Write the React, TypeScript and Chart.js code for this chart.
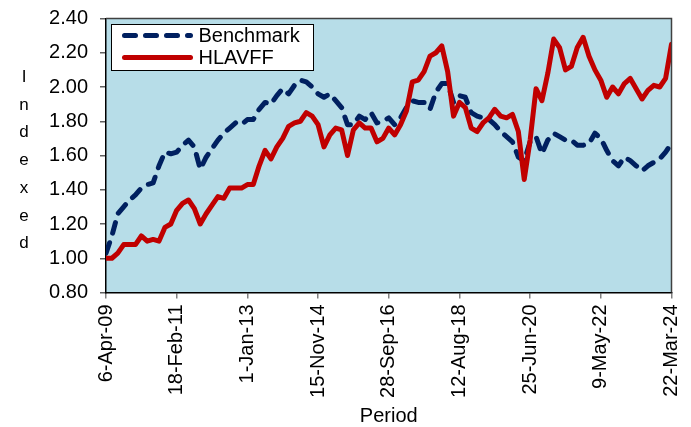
import React, { useEffect, useRef } from 'react';
import { Chart, registerables } from 'chart.js';

Chart.register(...registerables);

// Tick labels on the period axis (one every 12 samples)
const tickLabels = ['6-Apr-09', '18-Feb-11', '1-Jan-13', '15-Nov-14', '28-Sep-16', '12-Aug-18', '25-Jun-20', '9-May-22', '22-Mar-24'];
const samplesPerTick = 12;

const benchmark = [
  1.03, 1.13, 1.26, 1.30, 1.34, 1.37, 1.41, 1.43, 1.44, 1.54,
  1.62, 1.61, 1.62, 1.66, 1.69, 1.65, 1.52, 1.59, 1.64, 1.69,
  1.73, 1.76, 1.79, 1.78, 1.81, 1.81, 1.87, 1.91, 1.90, 1.95,
  1.99, 1.96, 2.01, 2.04, 2.03, 2.00, 1.96, 1.94, 1.96, 1.92,
  1.88, 1.78, 1.78, 1.83, 1.81, 1.85, 1.79, 1.80, 1.82, 1.78,
  1.82, 1.88, 1.92, 1.91, 1.91, 1.87, 1.97, 2.02, 2.02, 1.91,
  1.95, 1.94, 1.85, 1.83, 1.82, 1.81, 1.78, 1.74, 1.71, 1.68,
  1.59, 1.57, 1.68, 1.71, 1.61, 1.69, 1.73, 1.71, 1.69, 1.69,
  1.66, 1.66, 1.67, 1.73, 1.70, 1.63, 1.57, 1.54, 1.59, 1.57,
  1.54, 1.51, 1.54, 1.56, 1.58, 1.62, 1.67,
];

const hlavff = [
  1.00, 1.00, 1.03, 1.08, 1.08, 1.08, 1.13, 1.10, 1.11, 1.10,
  1.18, 1.20, 1.28, 1.32, 1.34, 1.29, 1.20, 1.26, 1.31, 1.36,
  1.35, 1.41, 1.41, 1.41, 1.43, 1.43, 1.54, 1.63, 1.58, 1.65,
  1.70, 1.77, 1.79, 1.80, 1.85, 1.83, 1.78, 1.65, 1.72, 1.76,
  1.75, 1.60, 1.75, 1.79, 1.76, 1.76, 1.68, 1.70, 1.76, 1.72,
  1.78, 1.86, 2.03, 2.04, 2.09, 2.18, 2.20, 2.24, 2.09, 1.83,
  1.91, 1.88, 1.76, 1.74, 1.79, 1.82, 1.87, 1.83, 1.82, 1.84,
  1.74, 1.46, 1.69, 1.99, 1.92, 2.08, 2.28, 2.23, 2.10, 2.12,
  2.23, 2.29, 2.18, 2.10, 2.04, 1.94, 2.00, 1.96, 2.02, 2.05,
  1.99, 1.93, 1.98, 2.01, 2.00, 2.05, 2.25,
];

const seriesNames = ['Benchmark', 'HLAVFF'];
const seriesColors = ['#002060', '#C00000'];
const yTitle = 'Indexed';
const xTitle = 'Period';

const FONT = "'Liberation Sans', Arial, sans-serif";

const decorPlugin = {
  id: 'decor',
  beforeDraw(chart: any) {
    const { ctx, chartArea } = chart;
    const { left, top, right, bottom } = chartArea;
    ctx.save();
    ctx.fillStyle = '#B7DDE8';
    ctx.fillRect(left, top, right - left, bottom - top);
    ctx.restore();
  },
  afterDraw(chart: any) {
    const { ctx, chartArea } = chart;
    const { left, top, right, bottom } = chartArea;
    ctx.save();
    // top & right frame
    ctx.strokeStyle = '#404040';
    ctx.lineWidth = 1.5;
    ctx.beginPath();
    ctx.moveTo(left, top);
    ctx.lineTo(right, top);
    ctx.lineTo(right, bottom);
    ctx.stroke();

    // legend
    const bx = left + 5.5, by = top + 6, bw = 202, bh = 46;
    ctx.fillStyle = '#FFFFFF';
    ctx.fillRect(bx, by, bw, bh);
    ctx.strokeStyle = '#000000';
    ctx.lineWidth = 1;
    ctx.strokeRect(bx, by, bw, bh);
    const rows = [by + 11, by + 33];
    seriesNames.forEach((name, i) => {
      ctx.beginPath();
      ctx.lineWidth = 5;
      ctx.lineCap = 'round';
      ctx.strokeStyle = seriesColors[i];
      ctx.setLineDash(i === 0 ? [11, 10] : []);
      ctx.moveTo(bx + 13, rows[i]);
      ctx.lineTo(bx + 79, rows[i]);
      ctx.stroke();
      ctx.setLineDash([]);
      ctx.fillStyle = '#000';
      ctx.font = `20px ${FONT}`;
      ctx.textAlign = 'left';
      ctx.textBaseline = 'middle';
      ctx.fillText(name, bx + 87, rows[i] + 1);
    });

    // y title: stacked letters
    ctx.fillStyle = '#000';
    ctx.font = `17px ${FONT}`;
    ctx.textAlign = 'center';
    ctx.textBaseline = 'alphabetic';
    yTitle.split('').forEach((ch, k) => {
      ctx.fillText(ch, 24, 82 + 27.7 * k);
    });

    // x title
    ctx.font = `20px ${FONT}`;
    ctx.textAlign = 'center';
    ctx.fillText(xTitle, (left + right) / 2, 422);
    ctx.restore();
  },
};

export default function App() {
  const ref = useRef<HTMLCanvasElement | null>(null);
  useEffect(() => {
    if (!ref.current) return;
    const maxX = (tickLabels.length - 1) * samplesPerTick;
    const chart = new Chart(ref.current, {
      type: 'line',
      data: {
        datasets: [
          {
            label: seriesNames[0],
            data: benchmark.map((v, i) => ({ x: i, y: v })),
            borderColor: seriesColors[0],
            borderWidth: 5,
            borderDash: [11, 10],
            borderCapStyle: 'round',
            borderJoinStyle: 'round',
            pointRadius: 0,
            tension: 0,
            order: 1,
          },
          {
            label: seriesNames[1],
            data: hlavff.map((v, i) => ({ x: i, y: v })),
            borderColor: seriesColors[1],
            borderWidth: 5,
            borderCapStyle: 'round',
            borderJoinStyle: 'round',
            pointRadius: 0,
            tension: 0,
            order: 0,
          },
        ],
      },
      options: {
        animation: false,
        responsive: true,
        maintainAspectRatio: false,
        layout: { padding: { left: 0, right: 19.5, top: 18.5, bottom: 0 } },
        plugins: {
          legend: { display: false },
          tooltip: { enabled: false },
        },
        scales: {
          x: {
            type: 'linear',
            min: 0,
            max: maxX,
            afterFit: (s: any) => { s.height = 134.5; s.paddingLeft = 0; s.paddingRight = 0; },
            ticks: {
              stepSize: samplesPerTick,
              autoSkip: false,
              minRotation: 90,
              maxRotation: 90,
              padding: 6,
              color: '#000',
              font: { family: FONT, size: 20 },
              callback: (v: any) => {
                const idx = Math.round(Number(v) / samplesPerTick);
                return tickLabels[idx] ?? '';
              },
            },
            grid: { drawOnChartArea: false, drawTicks: true, tickLength: 6, color: '#808080', lineWidth: 1.5 },
            border: { color: '#000', width: 1.5 },
          },
          y: {
            min: 0.8,
            max: 2.4,
            afterFit: (s: any) => { s.width = 106; s.paddingTop = 0; s.paddingBottom = 0; },
            ticks: {
              stepSize: 0.2,
              padding: 12,
              color: '#000',
              font: { family: FONT, size: 20 },
              callback: (v: any) => Number(v).toFixed(2),
            },
            grid: { drawOnChartArea: false, drawTicks: true, tickLength: 6, color: '#606060', lineWidth: 1.5 },
            border: { color: '#000', width: 1.5 },
          },
        },
      },
      plugins: [decorPlugin],
    } as any);
    return () => chart.destroy();
  }, []);
  return (
    <div style={{ position: 'absolute', left: 0, top: 0, width: 691, height: 427 }}>
      <canvas ref={ref} />
    </div>
  );
}
